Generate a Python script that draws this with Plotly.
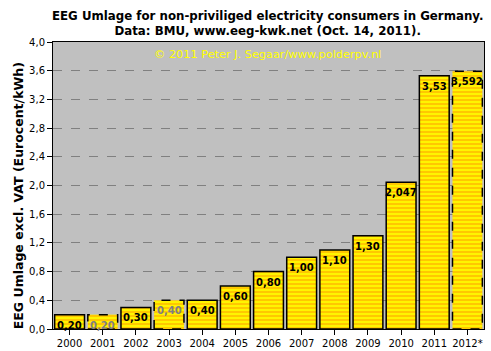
import plotly.graph_objects as go

years = ["2000", "2001", "2002", "2003", "2004", "2005", "2006", "2007", "2008", "2009", "2010", "2011", "2012*"]
values = [0.20, 0.20, 0.30, 0.40, 0.40, 0.60, 0.80, 1.00, 1.10, 1.30, 2.047, 3.53, 3.592]
labels = ["0,20", "0,20", "0,30", "0,40", "0,40", "0,60", "0,80", "1,00", "1,10", "1,30", "2,047", "3,53", "3,592"]
dashed = [False, True, False, True, False, False, False, False, False, False, False, False, True]
yticks = [0.0, 0.4, 0.8, 1.2, 1.6, 2.0, 2.4, 2.8, 3.2, 3.6, 4.0]

xpos = list(range(len(years)))
half = 0.45
font = "DejaVu Sans"

fig = go.Figure()
fig.add_trace(go.Bar(
    x=xpos, y=values, width=2 * half,
    marker=dict(color="#FFFF00",
                line=dict(color=["rgba(0,0,0,0)" if d else "black" for d in dashed], width=1.5),
                pattern=dict(shape="-", fgcolor="#FFC800", bgcolor="#FFFF00", size=4, solidity=0.6,
                             fillmode="replace", fgopacity=1)),
    hoverinfo="skip",
))

for i, (x, v, l, d) in enumerate(zip(xpos, values, labels, dashed)):
    fig.add_annotation(x=x, y=v, xref="x", yref="y", text="<b>%s</b>" % l, showarrow=False,
                       yanchor="top", yshift=-3,
                       font=dict(family=font, size=10, color="#808080" if (d and i < 12) else "black"))

shapes = []
for i, (v, d) in enumerate(zip(values, dashed)):
    if d:
        shapes.append(dict(type="rect", xref="x", yref="y", x0=i - half, x1=i + half, y0=0, y1=v,
                           line=dict(color="black", width=1.5, dash="dash"), layer="above"))
fig.update_layout(shapes=shapes)

fig.add_annotation(text="© 2011 Peter J. Segaar/www.polderpv.nl", xref="paper", yref="paper",
                   x=0.498, y=0.985, yanchor="top", showarrow=False,
                   font=dict(family=font, size=11.3, color="#FFFF00"))

fig.add_annotation(text="<b>EEG Umlage for non-priviliged electricity consumers in Germany.<br>Data: BMU, www.eeg-kwk.net (Oct. 14, 2011).</b>",
                   xref="paper", yref="paper", x=0.498, y=1.0, yanchor="bottom", yshift=2,
                   showarrow=False, align="center",
                   font=dict(family=font, size=11.8, color="black"))

fig.add_annotation(text="<b>EEG Umlage excl. VAT (Eurocent/kWh)</b>", xref="paper", yref="paper",
                   x=-0.081, y=0.463, xanchor="center", yanchor="middle", textangle=-90, showarrow=False,
                   font=dict(family=font, size=12.5, color="black"))

fig.update_layout(
    width=491, height=351,
    margin=dict(l=53, r=7, t=42, b=22, autoexpand=False),
    paper_bgcolor="white", plot_bgcolor="#C0C0C0",
    separators=",.",
    showlegend=False,
    xaxis=dict(tickmode="array", tickvals=xpos, ticktext=years, range=[-0.5, len(years) - 0.5],
               showgrid=False, showline=True, linecolor="black", linewidth=1, mirror=True,
               ticks="outside", tickson="boundaries", ticklen=5, tickcolor="black", automargin=False,
               tickfont=dict(family=font, size=10, color="black")),
    yaxis=dict(range=[0, 4.0], tickmode="array", tickvals=yticks, tickformat=".1f",
               showgrid=True, gridcolor="#808080", griddash="dash", gridwidth=1,
               showline=True, linecolor="black", linewidth=1, mirror=True,
               ticks="outside", ticklen=5, tickcolor="black", zeroline=False, automargin=False,
               tickfont=dict(family=font, size=10, color="black")),
    font=dict(family=font),
)

fig.write_html("out.html")
